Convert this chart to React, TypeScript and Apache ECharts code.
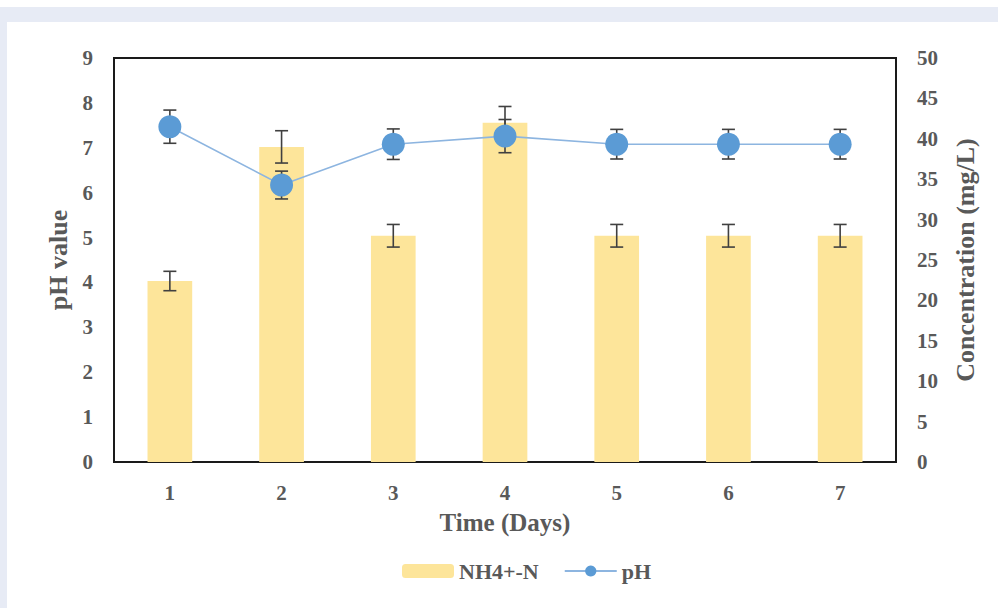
import React, { useEffect, useRef } from "react";
import * as echarts from "echarts";

const days = ["1", "2", "3", "4", "5", "6", "7"];
const nh4 = [22.4, 39.0, 28.0, 42.0, 28.0, 28.0, 28.0];
const nh4Err = [1.2, 2.0, 1.4, 2.0, 1.4, 1.4, 1.4];
const ph = [7.47, 6.17, 7.08, 7.26, 7.08, 7.08, 7.08];
const phErr = [0.37, 0.31, 0.34, 0.37, 0.33, 0.33, 0.33];

const FONT = "'Liberation Serif', 'Times New Roman', serif";
const GREY = "#595959";

function errorRender(params: any, api: any) {
  const x = api.value(0);
  const lo = api.value(1);
  const hi = api.value(2);
  const p1 = api.coord([x, hi]);
  const p2 = api.coord([x, lo]);
  const hw = 6.5;
  const st = { stroke: "#404040", lineWidth: 1.6 };
  return {
    type: "group",
    children: [
      { type: "line", shape: { x1: p1[0], y1: p1[1], x2: p2[0], y2: p2[1] }, style: st },
      { type: "line", shape: { x1: p1[0] - hw, y1: p1[1], x2: p1[0] + hw, y2: p1[1] }, style: st },
      { type: "line", shape: { x1: p2[0] - hw, y1: p2[1], x2: p2[0] + hw, y2: p2[1] }, style: st },
    ],
  };
}

export default function App() {
  const ref = useRef<HTMLDivElement>(null);
  useEffect(() => {
    document.body.style.margin = "0";
    const chart = echarts.init(ref.current!, undefined, { renderer: "svg" });
    const tick = { fontFamily: FONT, fontWeight: "bold", fontSize: 21, color: GREY };
    chart.setOption({
      animation: false,
      backgroundColor: "#ffffff",
      graphic: [
        { type: "rect", left: 0, top: 7, shape: { width: 998, height: 15 }, style: { fill: "#e7ebf5" }, z: -10 },
        { type: "rect", left: 0, top: 7, shape: { width: 7, height: 601 }, style: { fill: "#e7ebf5" }, z: -10 },
      ],
      grid: {
        left: 114,
        right: 102,
        top: 58,
        bottom: 146,
        show: true,
        borderColor: "#1a1a1a",
        borderWidth: 2,
        backgroundColor: "transparent",
      },
      legend: {
        bottom: 21,
        left: 397,
        itemWidth: 52,
        itemHeight: 14,
        itemGap: 25,
        data: ["NH4+-N", "pH"],
        textStyle: { fontFamily: FONT, fontWeight: "bold", fontSize: 22, color: GREY },
      },
      xAxis: {
        type: "category",
        data: days,
        boundaryGap: true,
        name: "Time (Days)",
        nameLocation: "middle",
        nameGap: 48,
        nameTextStyle: { fontFamily: FONT, fontWeight: "bold", fontSize: 25, color: GREY },
        axisLine: { show: false },
        axisTick: { show: false },
        axisLabel: { margin: 20, ...tick },
        splitLine: { show: false },
      },
      yAxis: [
        {
          type: "value",
          min: 0,
          max: 9,
          interval: 1,
          name: "pH value",
          nameLocation: "middle",
          nameGap: 39,
          nameTextStyle: { fontFamily: FONT, fontWeight: "bold", fontSize: 26, color: GREY },
          axisLine: { show: false },
          axisTick: { show: false },
          splitLine: { show: false },
          axisLabel: { margin: 21, ...tick },
        },
        {
          type: "value",
          min: 0,
          max: 50,
          interval: 5,
          name: "Concentration (mg/L)",
          nameLocation: "middle",
          nameGap: 56,
          nameTextStyle: { fontFamily: FONT, fontWeight: "bold", fontSize: 26, color: GREY },
          axisLine: { show: false },
          axisTick: { show: false },
          splitLine: { show: false },
          axisLabel: { margin: 21, ...tick },
        },
      ],
      series: [
        {
          name: "NH4+-N",
          type: "bar",
          yAxisIndex: 1,
          data: nh4,
          barWidth: "40%",
          itemStyle: { color: "#fde59a" },
          z: 2,
        },
        {
          name: "NH4 error",
          type: "custom",
          yAxisIndex: 1,
          renderItem: errorRender,
          data: days.map((_, i) => [i, nh4[i] - nh4Err[i], nh4[i] + nh4Err[i]]),
          encode: { x: 0, y: [1, 2] },
          z: 3,
          silent: true,
        },
        {
          name: "pH error",
          type: "custom",
          yAxisIndex: 0,
          renderItem: errorRender,
          data: days.map((_, i) => [i, ph[i] - phErr[i], ph[i] + phErr[i]]),
          encode: { x: 0, y: [1, 2] },
          z: 4,
          silent: true,
        },
        {
          name: "pH",
          type: "line",
          yAxisIndex: 0,
          data: ph,
          symbol: "circle",
          symbolSize: 23,
          itemStyle: { color: "#5b9bd5" },
          lineStyle: { color: "#8db5e0", width: 1.6 },
          z: 5,
        },
      ],
    });
    return () => chart.dispose();
  }, []);
  return <div ref={ref} style={{ width: 998, height: 608 }} />;
}
